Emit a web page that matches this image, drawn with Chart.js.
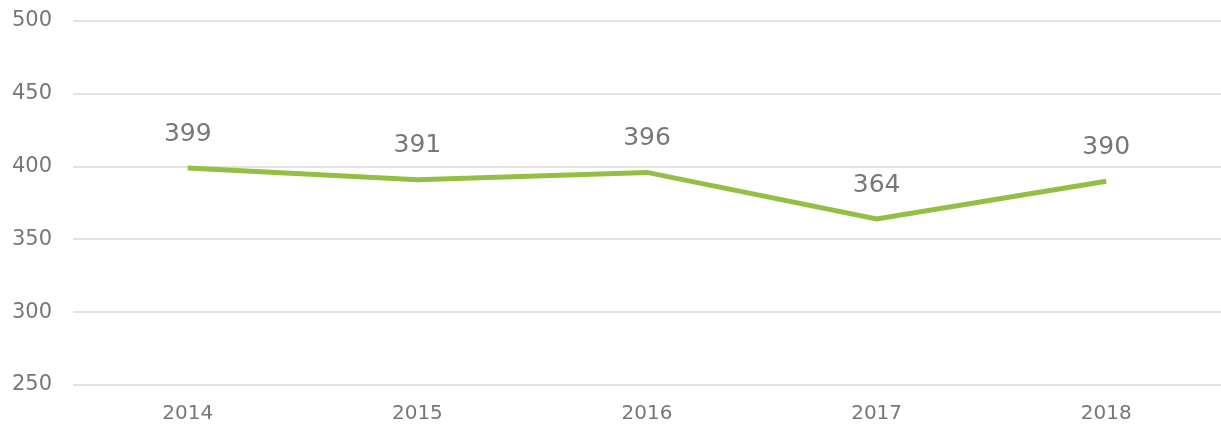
<!DOCTYPE html>
<html lang="en">
<head>
    <meta charset="UTF-8">
    <title>Yearly values</title>
    <style>
        html, body { margin: 0; padding: 0; background: #fff; }
        #wrap { width: 1221px; height: 425px; }
    </style>
</head>
<body>
    <div id="wrap"><canvas id="myChart"></canvas></div>
    <script src="https://cdn.jsdelivr.net/npm/chart.js@4/dist/chart.umd.min.js"></script>
    <script>
        const years = ["2014", "2015", "2016", "2017", "2018"];
        const values = [399, 391, 396, 364, 390];
        const yTicks = [250, 300, 350, 400, 450, 500];

        // write the value above each point
        const valueLabels = {
            id: 'valueLabels',
            afterDatasetsDraw(chart) {
                const ctx = chart.ctx;
                const meta = chart.getDatasetMeta(0);
                ctx.save();
                ctx.font = '25px "DejaVu Sans"';
                ctx.fillStyle = '#777';
                ctx.textAlign = 'center';
                ctx.textBaseline = 'middle';
                meta.data.forEach((pt, i) => {
                    ctx.fillText(values[i], pt.x, pt.y - 34);
                });
                ctx.restore();
            }
        };

        new Chart(document.getElementById('myChart'), {
            type: 'line',
            data: {
                labels: years,
                datasets: [{
                    data: values,
                    borderColor: '#94bf45',
                    borderWidth: 5,
                    pointRadius: 0,
                    tension: 0
                }]
            },
            options: {
                responsive: true,
                maintainAspectRatio: false,
                animation: false,
                layout: { padding: { top: 21, left: 0, right: 0, bottom: 0 } },
                plugins: { legend: { display: false }, tooltip: { enabled: false } },
                scales: {
                    x: {
                        offset: true,
                        afterFit(axis) { axis.height = 40; },
                        grid: { display: false, drawTicks: false },
                        border: { display: false },
                        ticks: { color: '#777', font: { family: 'DejaVu Sans', size: 20 }, padding: 17 }
                    },
                    y: {
                        min: 250,
                        max: 500,
                        afterBuildTicks(axis) { axis.ticks = yTicks.map(v => ({ value: v })); },
                        afterFit(axis) { axis.width = 73; axis.paddingTop = 0; axis.paddingBottom = 0; },
                        grid: { color: '#e3e3e3', lineWidth: 2, drawTicks: false },
                        border: { display: false },
                        ticks: { color: '#777', font: { family: 'DejaVu Sans', size: 21 }, padding: 21 }
                    }
                }
            },
            plugins: [valueLabels]
        });
    </script>
</body>
</html>
